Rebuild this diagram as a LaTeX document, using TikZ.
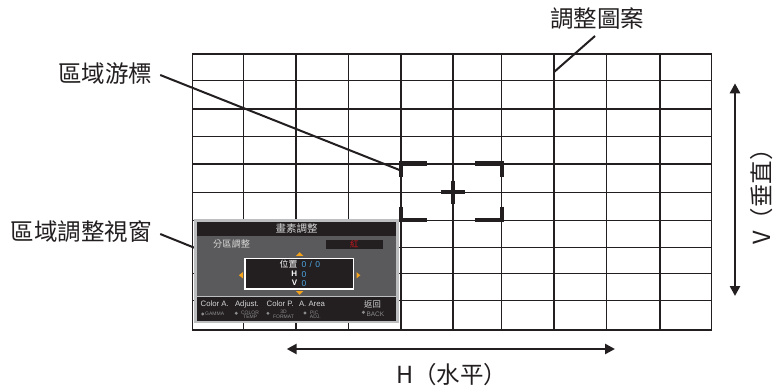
\documentclass[tikz,border=0pt]{standalone}
\usepackage{fontspec}
\setmainfont{Liberation Sans}
\newfontfamily\cjk{Noto Sans CJK TC}
\usetikzlibrary{arrows.meta}
\definecolor{ink}{HTML}{231F20}
\definecolor{menugray}{HTML}{5A5A5C}
\definecolor{framegray}{HTML}{BCBEC0}
\definecolor{menutext}{HTML}{D6D6D6}
\definecolor{subtext}{HTML}{8C8C8C}
\definecolor{valblue}{HTML}{4DA3DD}
\definecolor{arroworange}{HTML}{F5A31A}
\definecolor{redtext}{HTML}{C8161D}
\begin{document}
\begin{tikzpicture}[x=1pt,y=-1pt,
  gridline/.style={draw=ink, line width=1.5pt},
  biglabel/.style={font=\cjk\fontsize{23.5}{26}\selectfont, inner sep=0pt, text=ink},
  leader/.style={draw=ink, line width=2pt},
  bracket/.style={draw=ink, line width=4.2pt},
  dimarrow/.style={draw=ink, line width=2.5pt, {Triangle[length=10pt,width=10pt]}-{Triangle[length=10pt,width=10pt]}},
  menutitle/.style={font=\cjk\fontsize{10.5}{12}\selectfont, text=menutext, inner sep=0pt},
  menuitem/.style={font=\cjk\fontsize{9.2}{11}\selectfont, text=menutext, inner sep=0pt},
  redbox/.style={fill=ink, minimum width=56.7pt, minimum height=9.3pt, inner sep=0pt, text=redtext, font=\cjk\fontsize{8.5}{9}\selectfont},
  poslabel/.style={text=white, inner sep=0pt, anchor=east},
  posval/.style={text=valblue, inner sep=0pt, anchor=west, font=\fontsize{8.5}{9}\selectfont},
  keytext/.style={text=menutext, inner sep=0pt, anchor=base west, font=\fontsize{7.8}{9}\selectfont},
  subkey/.style={text=subtext, inner sep=0pt, font=\fontsize{5}{5.5}\selectfont},
  keydot/.style={fill=subtext},
  orangetri/.style={fill=arroworange}
]
\useasboundingbox (0,0) rectangle (776,390);
\fill[white] (0,0) rectangle (776,390);

% grid
\foreach \gx in {192.3,243.7,296,348.3,401,453,501.7,554,606.7,660,711.7}
  \draw[gridline] (\gx,54) -- (\gx,330);
\foreach \gy in {54,80.7,109,136.7,164,192.7,220.7,247.3,273.3,300.7,330}
  \draw[gridline] (192.3,\gy) -- (711.7,\gy);
\draw[gridline] (192.3,54) rectangle (711.7,330);

% cursor
\draw[bracket] (426.7,163.5) -- (400.8,163.5) -- (400.8,177.3);
\draw[bracket] (400.8,206.7) -- (400.8,220) -- (426.7,220);
\draw[bracket] (475,163.5) -- (501.7,163.5) -- (501.7,177.3);
\draw[bracket] (501.7,206.7) -- (501.7,220) -- (475,220);
\draw[bracket] (440.7,192.2) -- (464.7,192.2);
\draw[bracket] (452.7,180.7) -- (452.7,203.7);

% labels and leaders
\node[biglabel] (patlbl) at (597,19) {調整圖案};
\coordinate (pattip) at (554.4,71.7);
\draw[leader] ([shift={(-2,17)}]patlbl.center) -- (pattip);

\node[biglabel] (cursorlbl) at (105,74) {區域游標};
\coordinate (cursortip) at (399.5,170);
\draw[leader] ([shift={(8,1)}]cursorlbl.east) -- (cursortip);

\node[biglabel] (winlbl) at (81,232) {區域調整視窗};
\coordinate (wintip) at (195,248);
\draw[leader] ([shift={(8.5,2)}]winlbl.east) -- (wintip);

% dimension arrows
\coordinate (hleft) at (286.7,349);
\coordinate (hright) at (615,349);
\draw[dimarrow] (hleft) -- (hright);
\node[biglabel, anchor=west] (hlbl) at (396,375) {H（水平）};

\coordinate (vtop) at (735,83.3);
\coordinate (vbottom) at (735,296);
\draw[dimarrow] (vtop) -- (vbottom);
\node[biglabel, anchor=west, rotate=90] (vlbl) at (762,245) {V（垂直）};

% menu window
\draw[draw=framegray, line width=2.5pt, fill=ink] (195.4,220.7) rectangle (397.7,322.1);
\fill[menugray] (196.7,236) rectangle (396.4,295.6);
\draw[framegray, line width=1.2pt] (196.7,296.3) -- (396.4,296.3);

\node[menutitle] (mtitle) at (296.5,228.8) {畫素調整};
\node[menuitem, anchor=west] (zone) at (213,244.3) {分區調整};
\node[redbox] (colbox) at (354.3,244.6) {紅};

\draw[draw=white, line width=1.1pt, fill=ink] (245,258.3) rectangle (353.3,289);
\node[poslabel, font=\cjk\fontsize{8.8}{9}\selectfont] (posl) at (297.5,264.5) {位置};
\node[poslabel, font=\bfseries\fontsize{8}{9}\selectfont] (hl) at (297.3,273.9) {H};
\node[poslabel, font=\bfseries\fontsize{8}{9}\selectfont] (vl) at (297.3,283) {V};
\node[posval] (posv) at (301.3,264.8) {0\hspace{3.4pt}/\hspace{3.4pt}0};
\node[posval] (hv) at (301.3,274.1) {0};
\node[posval] (vv) at (301.3,283.2) {0};

\fill[orangetri] (296,255.8) -- (303.3,255.8) -- (299.65,252.2) -- cycle;
\fill[orangetri] (296,291) -- (303.3,291) -- (299.65,294.8) -- cycle;
\fill[orangetri] (242.8,272.2) -- (242.8,278.3) -- (238.9,275.25) -- cycle;
\fill[orangetri] (356.6,272.2) -- (356.6,278.3) -- (360.3,275.25) -- cycle;

% key bar
\node[keytext] (ka) at (200.5,306.8) {Color A.};
\node[keytext] (kb) at (234.8,306.8) {Adjust.};
\node[keytext] (kc) at (266.5,306.8) {Color P.};
\node[keytext] (kd) at (298.8,306.8) {A. Area};
\node[keytext, font=\cjk\fontsize{8.3}{9}\selectfont] (ke) at (364,307.2) {返回};

\fill[keydot] (202.7,314) circle (1.6);
\fill[keydot] (236.2,313.2) circle (1.6);
\fill[keydot] (267.9,313.3) circle (1.6);
\fill[keydot] (305,313) circle (1.6);
\fill[keydot] (363.4,312.3) circle (1.7);
\node[subkey, anchor=west] (sa) at (205,314) {GAMMA};
\node[subkey] (sb1) at (250,312.4) {COLOR};
\node[subkey] (sb2) at (250.3,316.8) {TEMP};
\node[subkey] (sc1) at (283.5,312.2) {3D};
\node[subkey] (sc2) at (283.5,316.4) {FORMAT};
\node[subkey] (sd1) at (314.2,312.6) {PIC};
\node[subkey] (sd2) at (315.4,316.8) {ADJ.};
\node[subkey, anchor=west, font=\fontsize{6.5}{7}\selectfont] (se) at (366.3,314.6) {BACK};
\end{tikzpicture}
\end{document}
